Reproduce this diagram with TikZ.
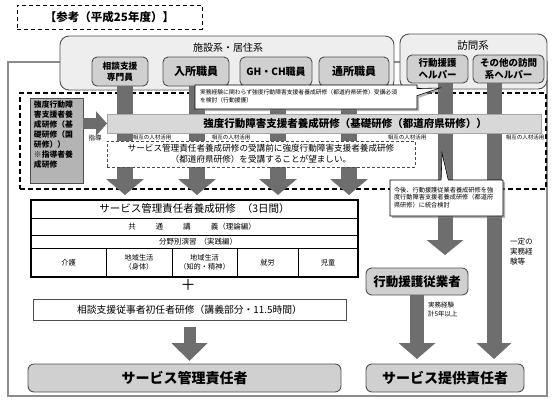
\documentclass[tikz,border=0pt]{standalone}
\usepackage{fontspec}
\setmainfont{Noto Sans CJK JP}
\usetikzlibrary{arrows.meta,shapes.callouts,shadows,calc}
\definecolor{grpfill}{HTML}{EEEEEE}
\definecolor{boxfill}{HTML}{D0D0D0}
\definecolor{barcol}{HTML}{6E6E6E}
\definecolor{bandfill}{HTML}{D8D8D8}
\definecolor{leftfill}{HTML}{B4B4B4}
\definecolor{framecol}{HTML}{8C8C8C}
\definecolor{edgecol}{HTML}{505050}
\newcommand{\fsz}[2]{\fontsize{#1}{#2}\selectfont}
\begin{document}
\begin{tikzpicture}[x=1pt,y=-1pt,
  every node/.style={inner sep=0pt, outer sep=0pt},
  grp/.style={draw=edgecol, fill=grpfill, rounded corners=9pt, line width=0.9pt, anchor=north west},
  ibox/.style={draw=edgecol, fill=boxfill, rounded corners=5pt, line width=0.9pt, anchor=north west, align=center},
  bar/.style={draw=barcol, line width=16pt, -{Triangle[width=37pt,length=16pt]}},
  callbox/.style={rectangle callout, draw=black, fill=white, line width=0.6pt, anchor=north west,
    drop shadow={shadow xshift=2pt, shadow yshift=-2pt, fill=black!50, opacity=0.6}},
  sogo/.style={font=\fsz{5.5}{6.5}},
  resbox/.style={draw=edgecol, fill=boxfill, rounded corners=6pt, line width=0.9pt, anchor=north west},
]
\useasboundingbox (0,0) rectangle (552,400);
\fill[white] (0,0) rectangle (552,400);

% title
\node[draw=black, dash pattern=on 4pt off 3pt, line width=1pt, anchor=north west,
  minimum width=185pt, minimum height=24pt, font=\bfseries\fsz{11.5}{13}] (title) at (17,5) {【参考（平成25年度）】};

% outer frame
\draw[framecol, line width=1.2pt] (8,62) rectangle (547,396);

% groups
\node[grp, minimum width=334pt, minimum height=54pt] (shisetsu) at (60,36) {};
\node[font=\fsz{10}{12}] (shisetsuT) at (228,48) {施設系・居住系};
\node[grp, minimum width=147pt, minimum height=55pt] (houmon) at (400,34) {};
\node[font=\fsz{10.5}{12}] (houmonT) at (473,46) {訪問系};

\node[ibox, minimum width=56pt, minimum height=29pt, font=\bfseries\fsz{8.7}{11}] (sodan) at (92,57) {相談支援\\専門員};
\node[ibox, minimum width=66pt, minimum height=29pt, font=\bfseries\fsz{11}{13}] (nyusho) at (163,57) {入所職員};
\node[ibox, minimum width=72pt, minimum height=29pt, font=\bfseries\fsz{10}{12}] (ghch) at (240,57) {GH・CH職員};
\node[ibox, minimum width=70pt, minimum height=29pt, font=\bfseries\fsz{11}{13}] (tsusho) at (319,57) {通所職員};
\node[ibox, minimum width=61pt, minimum height=28pt, font=\bfseries\fsz{9.5}{12}] (kodo) at (407,55) {行動援護\\ヘルパー};
\node[ibox, minimum width=71pt, minimum height=28pt, font=\bfseries\fsz{9.5}{12}] (sonota) at (473,55) {その他の訪問\\系ヘルパー};

% big dashed area
\node[draw=black, dash pattern=on 5pt off 3pt, line width=1.1pt, anchor=north west,
  minimum width=526pt, minimum height=96pt] (bigdash) at (20,93) {};

% tip coordinates
\coordinate (t1) at (125,195);
\coordinate (t2) at (197,195);
\coordinate (t3) at (278,195);
\coordinate (t4) at (349,195);

% bars from top boxes
\draw[bar] (sodan.south -| t1) -- (t1);
\draw[bar] (nyusho.south -| t2) -- (t2);
\draw[bar] (ghch.south -| t3) -- (t3);
\draw[bar] (tsusho.south -| t4) -- (t4);

\node[resbox, minimum width=102pt, minimum height=27pt, font=\bfseries\fsz{12.5}{14}] (kodojug) at (366,268) {行動援護従業者};
\node[resbox, minimum width=313pt, minimum height=28pt, font=\bfseries\fsz{14}{16}] (kanri) at (28,364) {サービス管理責任者};
\node[resbox, minimum width=158pt, minimum height=28pt, font=\bfseries\fsz{14}{16}] (teikyo) at (366,364) {サービス提供責任者};

\coordinate (k1) at (445,0);
\coordinate (s1) at (494,0);
\draw[bar, line width=15pt, -{Triangle[width=36pt,length=15pt]}, shorten >=13pt] (kodo.south -| k1) -- (kodojug.north -| k1);
\draw[bar, line width=15pt, -{Triangle[width=34pt,length=16pt]}, shorten >=5pt] (sonota.south -| s1) -- (teikyo.north -| s1);
\draw[bar, line width=14pt, -{Triangle[width=36pt,length=16pt]}, shorten >=5pt] (kodojug.south) -- (kodojug.south |- teikyo.north);

% left box and shido arrow
\node[draw=edgecol, fill=leftfill, line width=0.8pt, anchor=north west, minimum width=53pt, minimum height=85pt] (leftbox) at (30,98) {};
\node[anchor=north west, align=left, font=\bfseries\fsz{7.8}{10}] (lefttext) at (34,101)
  {強度行動障\\害支援者養\\成研修（基\\礎研修（国\\研修））\\※指導者養\\成研修};

% band
\node[draw=gray!70, fill=bandfill, line width=0.5pt, anchor=north west, minimum width=434pt, minimum height=19pt] (band) at (107,114) {};
\node[font=\bfseries\fsz{10.5}{12}] (bandtext) at (345,123.5) {強度行動障害支援者養成研修（基礎研修（都道府県研修））};
\draw[draw=gray!85!black, line width=11pt, -{Triangle[width=24pt,length=11pt]}] (leftbox.east |- band.west) -- (band.west);
\node[font=\fsz{6.5}{8}] (shido) at (95,138) {指導};

% note box
\node[draw=gray!60!black, dash pattern=on 3pt off 2pt, line width=0.9pt, fill=white, anchor=north west,
  minimum width=308pt, minimum height=26pt] (note) at (107,141) {};
\node[align=center, font=\fsz{8.6}{10.5}] (notetext) at (261,154)
  {サービス管理責任者養成研修の受講前に強度行動障害支援者養成研修\\（都道府県研修）を受講することが望ましい。};

\node[sogo] (sogo1) at (152,137) {相互の人材活用};
\node[sogo] (sogo2) at (231,137) {相互の人材活用};
\node[sogo] (sogo3) at (407,137) {相互の人材活用};
\node[sogo] (sogo4) at (525,137) {相互の人材活用};

% callouts
\node[callbox, minimum width=222pt, minimum height=24pt, callout absolute pointer={(440,88)}] (call1) at (195,85) {};
\node[anchor=north west, align=left, font=\fsz{5.8}{8}] (call1text) at (200,90)
  {実務経験に関わらず強度行動障害支援者養成研修（都道府県研修）受講必須\\を検討（行動援護）};
\node[callbox, minimum width=113pt, minimum height=36pt, callout absolute pointer={(442,153)}] (call2) at (390,180) {};
\node[anchor=north west, align=left, font=\fsz{6.2}{7.4}] (call2text) at (394,187)
  {今後、行動援護従業者養成研修を強\\度行動障害支援者養成研修（都道府\\県研修）に統合検討};

% table
\node[draw=black, line width=1.3pt, anchor=north west, minimum width=327pt, minimum height=77pt] (tbl) at (31,200) {};
\draw[line width=0.6pt] ($(tbl.north west)+(0,18)$) -- ($(tbl.north east)+(0,18)$);
\draw[line width=0.6pt] ($(tbl.north west)+(0,35)$) -- ($(tbl.north east)+(0,35)$);
\draw[line width=0.6pt] ($(tbl.north west)+(0,48)$) -- ($(tbl.north east)+(0,48)$);
\foreach \cx in {75,141,206,267} {
  \draw[line width=0.6pt] ($(tbl.north west)+(\cx,48)$) -- ($(tbl.south west)+(\cx,0)$);
}
\node[font=\fsz{10.5}{12}] (tblT) at (194.5,209) {サービス管理責任者養成研修\hspace{6pt}（3日間）};
\node[font=\fsz{7.5}{9}] (tblR2) at (192,226.5) {共\hspace{20pt}通\hspace{20pt}講\hspace{20pt}義（理論編）};
\node[font=\fsz{7.5}{9}] (tblR3) at (198,241.5) {分野別演習\hspace{3pt}（実践編）};
\node[font=\fsz{7.2}{9}, align=center] (c1) at (68.5,262.5) {介護};
\node[font=\fsz{7.2}{9}, align=center] (c2) at (139,262.5) {地域生活\\（身体）};
\node[font=\fsz{7.2}{9}, align=center] (c3) at (204.5,262.5) {地域生活\\（知的・精神）};
\node[font=\fsz{7.2}{9}, align=center] (c4) at (267.5,262.5) {就労};
\node[font=\fsz{7.2}{9}, align=center] (c5) at (328,262.5) {児童};

\node[font=\fsz{15}{16}] (plus) at (188,285) {＋};

\node[draw=gray!60!black, line width=0.7pt, anchor=north west, minimum width=313pt, minimum height=21pt,
  font=\fsz{9.8}{11}] (shoninsha) at (33,299) {相談支援従事者初任者研修（講義部分・11.5時間）};
\draw[bar, line width=12pt, -{Triangle[width=35pt,length=18pt]}, shorten <=7pt, shorten >=3pt]
  (shoninsha.south) -- (shoninsha.south |- kanri.north);

% side labels
\node[anchor=north west, align=left, font=\fsz{6.5}{9}] (jitsumu) at (428,302) {実務経験\\計5年以上};
\node[anchor=north west, align=left, font=\fsz{7.6}{10}] (ittei) at (510,238) {一定の\\実務経\\験等};

\end{tikzpicture}
\end{document}
